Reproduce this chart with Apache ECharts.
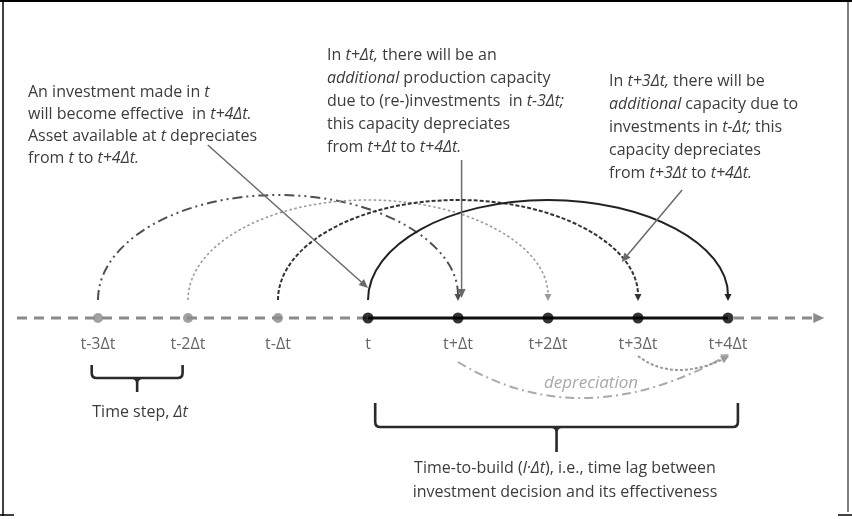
<!DOCTYPE html>
<html><head><meta charset="utf-8">
<script src="https://cdn.jsdelivr.net/npm/echarts@6/dist/echarts.min.js"></script>
<style>html,body{margin:0;padding:0;background:#fff}#c{width:852px;height:519px}</style>
</head><body><div id="c"></div>
<script>
// ---- data (value space: x = time steps relative to t, y = vertical offset above timeline) ----
const positions = [-3, -2, -1, 0, 1, 2, 3, 4];
const tickLabels = ['t-3Δt', 't-2Δt', 't-Δt', 't', 't+Δt', 't+2Δt', 't+3Δt', 't+4Δt'];
const pastCount = 3;
const axisStart = -3.9, axisEnd = 5.07;

const arcFrom = [-3, -2, -1, 0];
const arcTo = [1, 2, 3, 4];
const arcPeak = [123, 118, 118, 118];
const arcLift = 18;

const deprFrom = [1, 3], deprTo = [4, 4];
const deprStartY = [-44, -38], deprEndY = [-37, -39], deprDip = [-80, -52];

const braceFrom = [-3.07, 0.08], braceTo = [-2.06, 4.11];
const braceTop = [-47, -85], braceMid = [-60, -109], braceTip = [-74, -134];

const noteX0 = [-1.78, 1.04, 3.49], noteY0 = [173, 158, 128];
const noteX1 = [0.0, 1.04, 2.82], noteY1 = [30, 20, 56];

const FONT = 'Open Sans';
const TXT = '#3c3c3c';
const FS = 16;

function head(tip, from, len, half) {
  const dx = tip[0] - from[0], dy = tip[1] - from[1];
  const d = Math.sqrt(dx * dx + dy * dy) || 1;
  const ux = dx / d, uy = dy / d;
  const bx = tip[0] - ux * len, by = tip[1] - uy * len;
  return [[tip[0], tip[1]], [bx - uy * half, by + ux * half], [bx + uy * half, by - ux * half]];
}

function textEl(x, y, text, lh, extra) {
  return {
    type: 'text', x: x, y: y, style: Object.assign({
      text: text, fill: TXT, fontSize: FS, fontFamily: FONT, lineHeight: lh,
      rich: { i: { fontStyle: 'italic', fontSize: FS, fontFamily: FONT, lineHeight: lh, fill: TXT } }
    }, extra || {})
  };
}

const arcStyles = [
  { stroke: '#505050', lineWidth: 2, lineDash: [10, 4, 2, 4, 2, 4] },
  { stroke: '#999', lineWidth: 1.6, lineDash: [2.5, 2.5] },
  { stroke: '#333', lineWidth: 2, lineDash: [4, 2] },
  { stroke: '#222', lineWidth: 2, lineDash: null }
];

const K = 0.5523;
const chart = echarts.init(document.getElementById('c'), null, { renderer: 'canvas' });

const option = {
  animation: false,
  backgroundColor: '#fff',
  grid: { left: 8, right: 34, top: 0, bottom: 0 },
  xAxis: { type: 'value', min: -4, max: 5, show: false },
  yAxis: { type: 'value', min: -201, max: 318, show: false },
  graphic: [
    { type: 'line', shape: { x1: 0, y1: 1, x2: 852, y2: 1 }, style: { stroke: '#000', lineWidth: 2 } },
    { type: 'line', shape: { x1: 3, y1: 0, x2: 3, y2: 516 }, style: { stroke: '#000', lineWidth: 1.5 } },
    { type: 'line', shape: { x1: 848, y1: 0, x2: 848, y2: 512 }, style: { stroke: '#000', lineWidth: 1 } },
    { type: 'line', shape: { x1: 0, y1: 515, x2: 14, y2: 515 }, style: { stroke: '#000', lineWidth: 1.5 } },
    { type: 'line', shape: { x1: 838, y1: 515, x2: 852, y2: 515 }, style: { stroke: '#000', lineWidth: 1.5 } },
    textEl(28, 82, 'An investment made in {i|t}\nwill become effective  in {i|t+4Δt.}\nAsset available at {i|t} depreciates\nfrom {i|t} to {i|t+4Δt.}', 21.7),
    textEl(327, 44, 'In {i|t+Δt,} there will be an\n{i|additional} production capacity\ndue to (re-)investments  in {i|t-3Δt;}\nthis capacity depreciates\nfrom {i|t+Δt} to {i|t+4Δt.}', 23),
    textEl(609, 70, 'In {i|t+3Δt,} there will be\n{i|additional} capacity due to\ninvestments in {i|t-Δt;} this\ncapacity depreciates\nfrom {i|t+3Δt} to {i|t+4Δt.}', 23),
    textEl(140, 412, 'Time step, {i|Δt}', 20, { align: 'center', verticalAlign: 'middle' }),
    textEl(565, 456, 'Time-to-build ({i|l·Δt}), i.e., time lag between\ninvestment decision and its effectiveness', 24, { align: 'center' }),
    {
      type: 'text', x: 591, y: 383, style: {
        text: 'depreciation', align: 'center', verticalAlign: 'middle',
        fill: '#a8a8a8', fontSize: 17, fontFamily: FONT, fontStyle: 'italic'
      }
    }
  ],
  series: [
    { // timeline
      type: 'custom', coordinateSystem: 'cartesian2d', silent: true, z: 2,
      data: [[axisStart, positions[pastCount], positions[positions.length - 1], axisEnd]],
      renderItem: function (params, api) {
        const a = api.coord([api.value(0), 0]);
        const b = api.coord([api.value(1), 0]);
        const c = api.coord([api.value(2), 0]);
        const e = api.coord([api.value(3), 0]);
        return {
          type: 'group', children: [
            { type: 'line', shape: { x1: a[0], y1: a[1], x2: b[0], y2: b[1] }, style: { stroke: '#8a8a8a', lineWidth: 3, lineDash: [10, 7] } },
            { type: 'line', shape: { x1: b[0], y1: b[1], x2: c[0], y2: c[1] }, style: { stroke: '#111', lineWidth: 3 } },
            { type: 'line', shape: { x1: c[0] + 6, y1: c[1], x2: e[0] - 8, y2: e[1] }, style: { stroke: '#8a8a8a', lineWidth: 3, lineDash: [10, 7] } },
            { type: 'polygon', shape: { points: head(e, [e[0] - 10, e[1]], 11, 5) }, style: { fill: '#8a8a8a' } }
          ]
        };
      }
    },
    { // investment arcs
      type: 'custom', coordinateSystem: 'cartesian2d', silent: true, z: 3,
      data: arcFrom.map((f, i) => [f, arcTo[i], arcPeak[i], i]),
      renderItem: function (params, api) {
        const f = api.value(0), t = api.value(1), pk = api.value(2), si = api.value(3);
        const p0 = api.coord([f, arcLift]);
        const p1 = api.coord([t, arcLift]);
        const top = api.coord([(f + t) / 2, pk]);
        const rx = (p1[0] - p0[0]) / 2, ry = p0[1] - top[1];
        const cx = (p0[0] + p1[0]) / 2, ty = top[1];
        const endY = p1[1] - 5;
        const d = 'M' + p0[0] + ' ' + p0[1] +
          ' C' + p0[0] + ' ' + (p0[1] - K * ry) + ' ' + (cx - K * rx) + ' ' + ty + ' ' + cx + ' ' + ty +
          ' C' + (cx + K * rx) + ' ' + ty + ' ' + p1[0] + ' ' + (p1[1] - K * ry) + ' ' + p1[0] + ' ' + endY;
        const st = arcStyles[si];
        return {
          type: 'group', children: [
            { type: 'path', shape: { pathData: d }, style: { stroke: st.stroke, lineWidth: st.lineWidth, lineDash: st.lineDash, fill: null } },
            { type: 'polygon', shape: { points: head([p1[0], p1[1] + 1], [p1[0], p1[1] - 10], 7, 3.5) }, style: { fill: st.stroke } }
          ]
        };
      }
    },
    { // depreciation arcs
      type: 'custom', coordinateSystem: 'cartesian2d', silent: true, z: 3,
      data: deprFrom.map((f, i) => [f, deprStartY[i], deprTo[i], deprEndY[i], deprDip[i], i]),
      renderItem: function (params, api) {
        const p0 = api.coord([api.value(0), api.value(1)]);
        const p1 = api.coord([api.value(2), api.value(3)]);
        const dip = api.coord([0, api.value(4)])[1];
        const idx = api.value(5);
        const cxp = idx === 0 ? p0[0] + (p1[0] - p0[0]) * 0.46 : p0[0] + (p1[0] - p0[0]) * 0.4;
        const cy = 2 * dip - (p0[1] + p1[1]) / 2;
        const d = 'M' + p0[0] + ' ' + p0[1] + ' Q' + cxp + ' ' + cy + ' ' + p1[0] + ' ' + p1[1];
        const col = idx === 0 ? '#aaa' : '#999';
        return {
          type: 'group', children: [
            { type: 'path', shape: { pathData: d }, style: { stroke: col, lineWidth: 2, lineDash: idx === 0 ? [9, 4, 2, 4] : [3, 2], fill: null } },
            { type: 'polygon', shape: { points: head([p1[0] + 1, p1[1] - 1], [cxp + (p1[0] - cxp) * 0.8, cy + (p1[1] - cy) * 0.8], 8, 4) }, style: { fill: col } }
          ]
        };
      }
    },
    { // braces
      type: 'custom', coordinateSystem: 'cartesian2d', silent: true, z: 3,
      data: braceFrom.map((f, i) => [f, braceTo[i], braceTop[i], braceMid[i], braceTip[i]]),
      renderItem: function (params, api) {
        const a = api.coord([api.value(0), api.value(2)]);
        const m = api.coord([api.value(0), api.value(3)]);
        const b = api.coord([api.value(1), api.value(2)]);
        const tip = api.coord([(api.value(0) + api.value(1)) / 2, api.value(4)]);
        const r = 5, cx = tip[0], my = m[1];
        const d = 'M' + a[0] + ' ' + a[1] + ' L' + a[0] + ' ' + (my - r) + ' Q' + a[0] + ' ' + my + ' ' + (a[0] + r) + ' ' + my +
          ' L' + (b[0] - r) + ' ' + my + ' Q' + b[0] + ' ' + my + ' ' + b[0] + ' ' + (my - r) + ' L' + b[0] + ' ' + b[1] +
          ' M' + (cx - r) + ' ' + my + ' Q' + cx + ' ' + my + ' ' + cx + ' ' + (my + r) + ' L' + cx + ' ' + tip[1] +
          ' M' + (cx + r) + ' ' + my + ' Q' + cx + ' ' + my + ' ' + cx + ' ' + (my + r);
        return { type: 'path', shape: { pathData: d }, style: { stroke: '#2a2a2a', lineWidth: 2.6, fill: null } };
      }
    },
    { // annotation arrows
      type: 'custom', coordinateSystem: 'cartesian2d', silent: true, z: 4,
      data: noteX0.map((x, i) => [x, noteY0[i], noteX1[i], noteY1[i]]),
      renderItem: function (params, api) {
        const p0 = api.coord([api.value(0), api.value(1)]);
        const p1 = api.coord([api.value(2), api.value(3)]);
        const h = head(p1, p0, 9, 4);
        const bx = (h[1][0] + h[2][0]) / 2, by = (h[1][1] + h[2][1]) / 2;
        return {
          type: 'group', children: [
            { type: 'line', shape: { x1: p0[0], y1: p0[1], x2: bx, y2: by }, style: { stroke: '#6a6a6a', lineWidth: 1.5 } },
            { type: 'polygon', shape: { points: h }, style: { fill: '#6a6a6a' } }
          ]
        };
      }
    },
    { // time points
      type: 'scatter', z: 5, silent: true,
      data: positions.map((p, i) => ({
        value: [p, 0],
        symbolSize: i < pastCount ? 10 : 11,
        itemStyle: { color: i < pastCount ? '#8a8a8a' : '#000' }
      })),
      label: {
        show: true, position: 'bottom', distance: 13,
        formatter: (p) => tickLabels[p.dataIndex],
        color: '#404040', fontSize: 16, fontFamily: FONT
      }
    }
  ]
};
chart.setOption(option);
</script>
</body></html>
